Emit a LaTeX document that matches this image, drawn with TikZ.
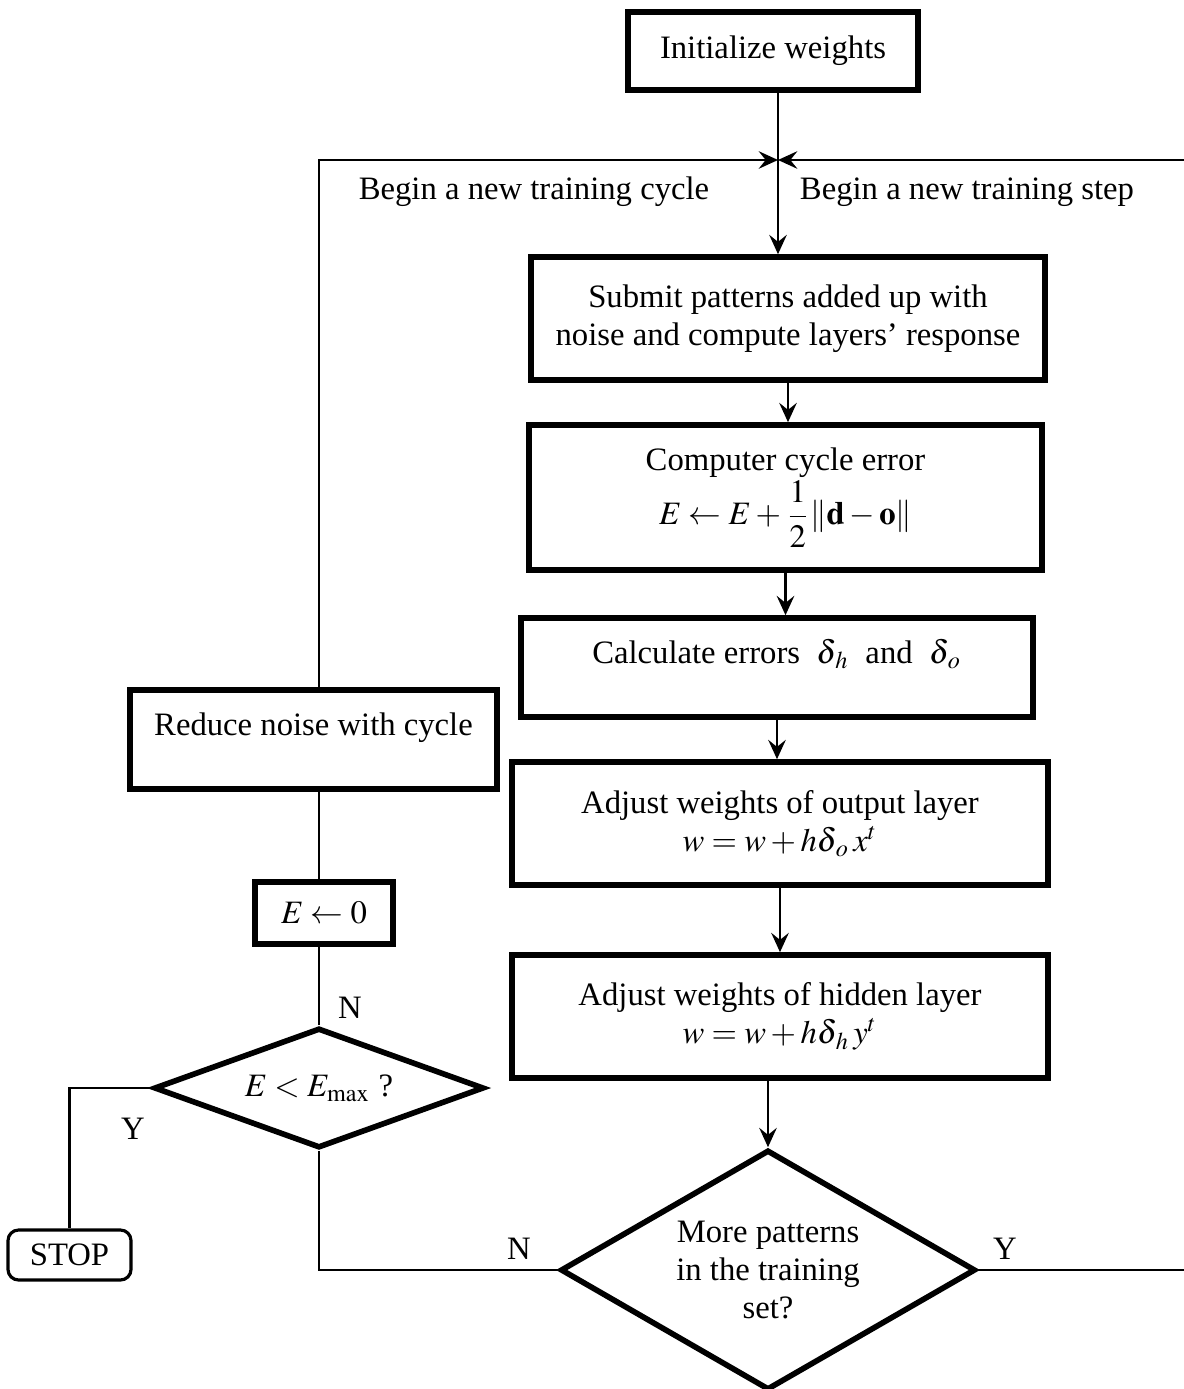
\documentclass[tikz,border=0pt]{standalone}
\usepackage{mathptmx}
\usepackage{amsmath}
\usepackage{fontspec}
\setmainfont{Liberation Serif}
\usetikzlibrary{shapes.geometric, arrows.meta, positioning, calc}

\begin{document}
\begin{tikzpicture}[
  font=\fontsize{9.3}{10.8}\selectfont,
  line width=0.6pt,
  box/.style={draw, line width=1.6pt, align=center, inner sep=0pt},
  decision/.style={draw, diamond, line width=1.6pt, align=center, inner sep=0pt},
  upper/.style={text height=0.25cm, text depth=0.33cm},
  arrow/.style={-{Stealth[length=5.5pt, width=5pt, inset=2pt]}},
  lbl/.style={inner sep=0pt}
]
  \useasboundingbox (0,0) rectangle (11.84,-13.89);

  % main column
  \node[box, minimum width=2.90cm, minimum height=0.78cm] (init) at (7.73,-0.51) {Initialize weights};
  \node[box, minimum width=5.14cm, minimum height=1.23cm] (submit) at (7.88,-3.185)
    {Submit patterns added up with\\noise and compute layers’ response};
  \node[box, minimum width=5.13cm, minimum height=1.45cm] (cycerr) at (7.855,-4.975)
    {Computer cycle error\\$\displaystyle E \leftarrow E + \frac{1}{2}\|\mathbf{d}-\mathbf{o}\|$};
  \node[box, upper, minimum width=5.12cm, minimum height=0.99cm] (calcerr) at (7.77,-6.675)
    {Calculate errors\enspace$\delta_{\,h}$\enspace and\enspace$\delta_{\,o}$};
  \node[box, minimum width=5.36cm, minimum height=1.23cm] (outw) at (7.80,-8.235)
    {Adjust weights of output layer\\$w = w + h\delta_{\,o}\,x^t$};
  \node[box, minimum width=5.36cm, minimum height=1.23cm] (hidw) at (7.80,-10.165)
    {Adjust weights of hidden layer\\$w = w + h\delta_{\,h}\,y^t$};
  \node[decision, minimum width=4.15cm, minimum height=2.40cm, shape aspect=1.73] (more) at (7.68,-12.70)
    {More patterns\\in the training\\set?};

  % cycle column
  \node[box, upper, minimum width=3.67cm, minimum height=0.99cm] (noise) at (3.135,-7.395) {Reduce noise with cycle};
  \node[box, minimum width=1.38cm, minimum height=0.62cm] (ezero) at (3.24,-9.13) {$E \leftarrow 0$};
  \node[decision, minimum width=3.30cm, minimum height=1.20cm, shape aspect=2.75] (emax) at (3.19,-10.88)
    {$E < E_{\max}$ ?};
  \node[draw, rounded corners=3pt, line width=0.9pt, minimum width=1.23cm, minimum height=0.50cm] (stop) at (0.695,-12.55) {STOP};

  % labels
  \node[lbl] (cyclbl) at (5.34,-1.92) {Begin a new training cycle};
  \node[lbl] (steplbl) at (9.67,-1.92) {Begin a new training step};
  \node[lbl] (nup) at (3.50,-10.08) {N};
  \node[lbl] (yleft) at (1.33,-11.29) {Y};
  \node[lbl] (nleft) at (5.19,-12.49) {N};
  \node[lbl] (yright) at (10.05,-12.49) {Y};

  \coordinate (join) at (7.78,-1.60);
  \coordinate (rloop) at (11.86,-12.70);

  \draw (init.south -| join) -- (join);
  \draw[arrow] (join) -- (join |- submit.north);
  \draw[arrow] (submit.south) -- (submit.south |- cycerr.north);
  \draw[arrow] (cycerr.south) -- (cycerr.south |- calcerr.north);
  \draw[arrow] (calcerr.south) -- (calcerr.south |- outw.north);
  \draw[arrow] (outw.south) -- (outw.south |- hidw.north);
  \draw[arrow] (hidw.south -| more.north) -- (more.north);

  % new cycle loop
  \draw (more.west) -| (emax.south);
  \draw (emax.north) -- (emax.north |- ezero.south);
  \draw (ezero.north -| emax.north) -- (emax.north |- noise.south);
  \draw[arrow] (noise.north -| emax.north) |- (join);
  \draw (emax.west) -| (stop.north);

  % new step loop
  \draw[arrow] (more.east) -- (rloop) |- (join);
\end{tikzpicture}
\end{document}
